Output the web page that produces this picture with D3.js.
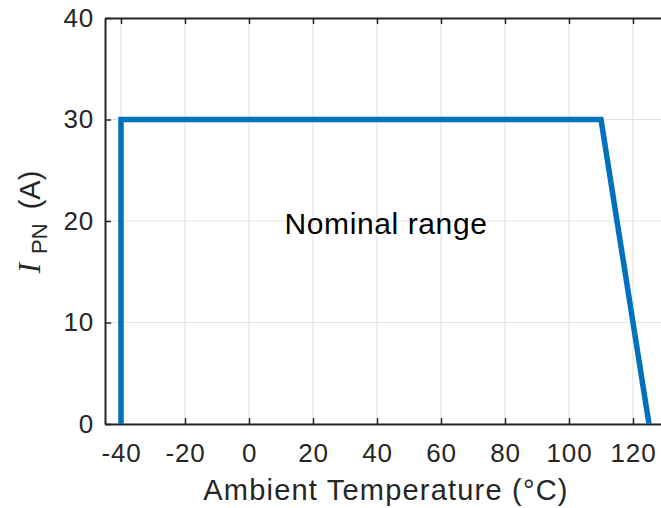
<!DOCTYPE html>
<html>
<head>
<meta charset="utf-8">
<script src="https://cdn.jsdelivr.net/npm/d3@7"></script>
<style>
  body { margin: 0; background: #fff; }
  text { font-family: "Liberation Sans", Arial, sans-serif; }
</style>
</head>
<body>
<div id="chart"></div>
<script>
const temps = [-40, -40, 110, 125];
const currents = [0, 30, 30, 0];
const xTicks = [-40, -20, 0, 20, 40, 60, 80, 100, 120];
const yTicks = [0, 10, 20, 30, 40];

const W = 661, H = 508;
const pLeft = 105, pTop = 18, pRight = 665, pBottom = 424;

const svg = d3.select("#chart")
    .append("svg")
    .attr("width", W)
    .attr("height", H);

const x = d3.scaleLinear().domain([-45, 130]).range([pLeft, pRight]);
const y = d3.scaleLinear().domain([0, 40]).range([pBottom, pTop]);

// grid
svg.append("g").selectAll("line")
    .data(xTicks)
    .enter().append("line")
    .attr("x1", d => x(d)).attr("x2", d => x(d))
    .attr("y1", pTop).attr("y2", pBottom)
    .attr("stroke", "#e3e3e3").attr("stroke-width", 1.2);

svg.append("g").selectAll("line")
    .data(yTicks)
    .enter().append("line")
    .attr("x1", pLeft).attr("x2", pRight)
    .attr("y1", d => y(d)).attr("y2", d => y(d))
    .attr("stroke", "#e3e3e3").attr("stroke-width", 1.2);

// axes (ticks pointing inward)
const styleAxis = g => {
    g.select(".domain").attr("stroke", "#262626").attr("stroke-width", 2);
    g.selectAll(".tick line").attr("stroke", "#262626").attr("stroke-width", 1.5);
    g.selectAll("text").attr("fill", "#262626").style("font-size", "26px")
        .style("letter-spacing", "0.8px")
        .style("font-family", "'Liberation Sans', Arial, sans-serif");
};

const fmt = d => String(d);

svg.append("g")
    .attr("transform", `translate(0,${pBottom})`)
    .call(d3.axisBottom(x).tickValues(xTicks).tickFormat(fmt).tickSizeInner(-6).tickSizeOuter(0).tickPadding(20))
    .call(styleAxis);

svg.append("g")
    .attr("transform", `translate(0,${pTop})`)
    .call(d3.axisTop(x).tickValues(xTicks).tickSizeInner(-6).tickSizeOuter(0).tickFormat(""))
    .call(styleAxis);

svg.append("g")
    .attr("transform", `translate(${pLeft},0)`)
    .call(d3.axisLeft(y).tickValues(yTicks).tickFormat(fmt).tickSizeInner(-6).tickSizeOuter(0).tickPadding(11))
    .call(styleAxis);

// data line
const pts = temps.map((t, i) => [t, currents[i]]);
svg.append("path")
    .datum(pts)
    .attr("d", d3.line().x(d => x(d[0])).y(d => y(d[1])))
    .attr("fill", "none")
    .attr("stroke", "#0072BD")
    .attr("stroke-width", 5.5)
    .attr("stroke-linejoin", "miter");

// annotation
svg.append("text")
    .attr("x", 386)
    .attr("y", 234)
    .attr("text-anchor", "middle")
    .attr("fill", "#000")
    .style("font-size", "30px")
    .style("letter-spacing", "0.6px")
    .text("Nominal range");

// x label
svg.append("text")
    .attr("x", 386)
    .attr("y", 500)
    .attr("text-anchor", "middle")
    .attr("fill", "#262626")
    .style("font-size", "29px")
    .style("letter-spacing", "1.2px")
    .text("Ambient Temperature (°C)");

// y label
const yl = svg.append("text")
    .attr("transform", `translate(40,222) rotate(-90)`)
    .attr("text-anchor", "middle")
    .attr("fill", "#262626")
    .style("font-size", "29px");
yl.append("tspan")
    .style("font-family", "'Liberation Serif', 'Times New Roman', serif")
    .style("font-style", "italic")
    .style("font-size", "31px")
    .text("I");
yl.append("tspan")
    .attr("dx", 9)
    .attr("dy", 7)
    .style("font-size", "22px")
    .text("PN");
yl.append("tspan")
    .attr("dx", 6)
    .attr("dy", -7)
    .text(" (A)");
</script>
</body>
</html>
